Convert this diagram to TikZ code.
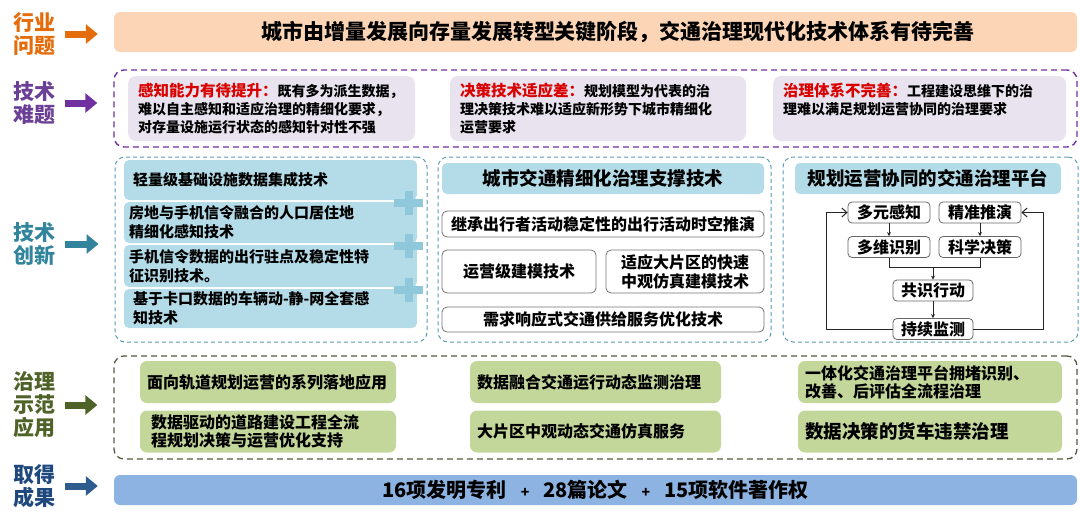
\documentclass[tikz,border=0pt]{standalone}
\usepackage{fontspec}
\setmainfont{Noto Sans CJK SC}
\usepackage{tikz}
\usetikzlibrary{arrows.meta}

\definecolor{hyorange}{HTML}{E46C0A}
\definecolor{barpeach}{HTML}{FBD5B5}
\definecolor{jsviolet}{HTML}{6A3F95}
\definecolor{jsarrow}{HTML}{7030A0}
\definecolor{nanfill}{HTML}{E8E3EE}
\definecolor{nanred}{HTML}{D90000}
\definecolor{cxteal}{HTML}{31849B}
\definecolor{cxdash}{HTML}{5B9BB5}
\definecolor{skyfill}{HTML}{B4DCE8}
\definecolor{plusblue}{HTML}{8FC8DA}
\definecolor{zlgreen}{HTML}{4F6228}
\definecolor{zldash}{HTML}{515A40}
\definecolor{appgreen}{HTML}{C4D79B}
\definecolor{cgnavy}{HTML}{1F497D}
\definecolor{cgarrow}{HTML}{2E5C8F}
\definecolor{cgbar}{HTML}{8DB3E2}

\newcommand{\hred}[1]{{\color{nanred}\fontsize{15.5}{18}\selectfont #1}}

\begin{document}
\begin{tikzpicture}[x=1pt, y=-1pt, font=\bfseries,
  lbl/.style={inner sep=0pt, align=center, font=\fontsize{21}{23}\selectfont\bfseries},
  bigarrow/.style={line width=7pt, -{Triangle[length=12pt,width=19pt]}, shorten <=10pt, shorten >=16pt},
  bar/.style={rounded corners=6pt, inner sep=0pt, minimum width=963pt},
  dashbox/.style={rounded corners=10pt, line width=1.4pt, dash pattern=on 6pt off 4pt, minimum width=963pt},
  nanbox/.style={fill=nanfill, rounded corners=8pt, inner xsep=10pt, inner ysep=4pt, text height=16pt, text depth=41pt, align=left, font=\fontsize{14}{18}\selectfont\bfseries},
  tealbox/.style={draw=cxdash, line width=1pt, dash pattern=on 4pt off 3pt, rounded corners=10pt, minimum height=185pt},
  chip/.style={fill=skyfill, rounded corners=5pt, text width=283pt, inner xsep=5pt, inner ysep=0pt, align=left, font=\fontsize{15}{19}\selectfont\bfseries},
  head/.style={fill=skyfill, rounded corners=5pt, minimum height=31pt, inner sep=0pt, font=\fontsize{18.5}{19}\selectfont\bfseries},
  whitebox/.style={draw=black!55, fill=white, rounded corners=5pt, line width=0.8pt, inner sep=0pt, align=center, font=\fontsize{16}{19}\selectfont\bfseries},
  flowbox/.style={draw=black!60, fill=white, rounded corners=4pt, line width=0.8pt, minimum width=82pt, minimum height=21pt, inner sep=0pt, font=\fontsize{16}{16}\selectfont\bfseries},
  thinline/.style={line width=0.8pt, draw=black!85},
  downarr/.style={thinline, -{Stealth[length=4pt,width=4pt]}},
  backarr/.style={line width=1pt, draw=black!85, -{Straight Barb[length=5pt,width=9pt]}},
  app/.style={fill=appgreen, rounded corners=7pt, inner xsep=7pt, minimum height=42pt, align=left, font=\fontsize{16}{18}\selectfont\bfseries}]

  \useasboundingbox (0,0) rectangle (1080,525);

  \node[lbl, text=hyorange] (l1) at (34,34) {行业\\问题};
  \node[lbl, text=jsviolet] (l2) at (34,103) {技术\\难题};
  \node[lbl, text=cxteal] (l3) at (34,244) {技术\\创新};
  \node[lbl, text=zlgreen] (l4) at (34,405) {治理\\示范\\应用};
  \node[lbl, text=cgnavy] (l5) at (34,486) {取得\\成果};

  \node[bar, fill=barpeach, minimum height=40pt] (b1) at (595.5,32) {};
  \node[font=\fontsize{21}{21}\selectfont\bfseries] (t1) at (618,32) {城市由增量发展向存量发展转型关键阶段，交通治理现代化技术体系有待完善};

  \node[dashbox, draw=jsarrow, minimum height=77pt] (b2) at (595.5,108.5) {};
  \node[nanbox, text width=267pt] (n1) at (271.5,108.5) {\hred{感知能力有待提升：}既有多为派生数据，\\难以自主感知和适应治理的精细化要求，\\对存量设施运行状态的感知针对性不强};
  \node[nanbox, text width=276pt] (n2) at (598,108.5) {\hred{决策技术适应差：}规划模型为代表的治\\理决策技术难以适应新形势下城市精细化\\运营要求};
  \node[nanbox, text width=273pt] (n3) at (919.5,108.5) {\hred{治理体系不完善：}工程建设思维下的治\\理难以满足规划运营协同的治理要求};

  \node[tealbox, minimum width=312pt] (b3) at (271,249.5) {};
  \node[tealbox, minimum width=333pt] (b4) at (604.5,249.5) {};
  \node[tealbox, minimum width=295pt] (b5) at (930.5,249.5) {};

  \node[chip, minimum height=40pt] (r1) at (270.5,180) {\hspace*{4pt}轻量级基础设施数据集成技术};
  \node[chip, minimum height=41pt] (r2) at (270.5,222.5) {房地与手机信令融合的人口居住地\\精细化感知技术};
  \node[chip, minimum height=42pt] (r3) at (270.5,266) {手机信令数据的出行驻点及稳定性特\\征识别技术。};
  \node[chip, minimum height=39pt] (r4) at (270.5,308.5) {\hspace*{4pt}基于卡口数据的车辆动-静-网全套感\\\hspace*{4pt}知技术};
  \foreach \y in {203,246,290} {
    \fill[plusblue] (394,\y-4) rectangle (423,\y+4);
    \fill[plusblue] (405,\y-12) rectangle (413,\y+12);
  }

  \node[head, minimum width=322pt] (h1) at (603,178.5) {城市交通精细化治理支撑技术};
  \node[whitebox, minimum width=322pt, minimum height=26pt] (w1) at (603,224) {继承出行者活动稳定性的出行活动时空推演};
  \node[whitebox, minimum width=154pt, minimum height=43pt] (w2) at (519,271.5) {运营级建模技术};
  \node[whitebox, minimum width=158pt, minimum height=43pt] (w3) at (685,271.5) {适应大片区的快速\\中观仿真建模技术};
  \node[whitebox, minimum width=322pt, minimum height=25pt] (w4) at (603,319.5) {需求响应式交通供给服务优化技术};

  \node[head, minimum width=266pt] (h2) at (928,178.5) {规划运营协同的交通治理平台};
  \node[flowbox] (dy) at (889,212.5) {多元感知};
  \node[flowbox] (jz) at (980,212.5) {精准推演};
  \node[flowbox] (dw) at (889,247) {多维识别};
  \node[flowbox] (kx) at (980,247) {科学决策};
  \node[flowbox, minimum width=80pt] (gs) at (933,290.5) {共识行动};
  \node[flowbox, minimum width=80pt] (jc) at (933,329) {持续监测};
  \draw[downarr] (dy.south) -- (dw.north);
  \draw[downarr] (jz.south) -- (kx.north);
  \draw[thinline] (dw.south) |- ([yshift=12pt]gs.north) -| (kx.south);
  \draw[downarr] ([yshift=12pt]gs.north) -- (gs.north);
  \draw[downarr] (gs.south) -- (jc.north);
  \draw[backarr] (jc.west) -| ([xshift=-21pt]dy.west) -- (dy.west);
  \draw[backarr] (jc.east) -| ([xshift=22pt]jz.east) -- (jz.east);

  \node[dashbox, draw=zldash, line width=1.3pt, minimum height=103pt] (b6) at (595.5,407.5) {};
  \node[app, text width=242pt] (a1) at (268,382) {面向轨道规划运营的系列落地应用};
  \node[app, text width=242pt] (a2) at (268,431.5) {\hspace*{4pt}数据驱动的道路建设工程全流\\\hspace*{4pt}程规划决策与运营优化支持};
  \node[app, text width=237pt] (a3) at (595.5,382) {数据融合交通运行动态监测治理};
  \node[app, text width=237pt] (a4) at (595.5,431.5) {大片区中观动态交通仿真服务};
  \node[app, text width=250pt] (a5) at (930,382) {一体化交通治理平台拥堵识别、\\改善、后评估全流程治理};
  \node[app, text width=250pt, font=\fontsize{18.5}{20}\selectfont\bfseries] (a6) at (930,431.5) {数据决策的货车违禁治理};

  \node[bar, fill=cgbar, minimum height=30pt, font=\fontsize{20}{20}\selectfont\bfseries] (b7) at (595.5,490) {16项发明专利\hspace{14pt}{\fontsize{14}{14}\selectfont +}\hspace{14pt}28篇论文\hspace{14pt}{\fontsize{14}{14}\selectfont +}\hspace{14pt}15项软件著作权};

  \draw[bigarrow, hyorange] (l1.east) -- (l1.east -| b1.west);
  \draw[bigarrow, jsarrow] (l2.east) -- (l2.east -| b2.west);
  \draw[bigarrow, cxteal] (l3.east) -- (l3.east -| b3.west);
  \draw[bigarrow, zlgreen] (l4.east) -- (l4.east -| b6.west);
  \draw[bigarrow, cgarrow] (l5.east) -- (l5.east -| b7.west);
\end{tikzpicture}
\end{document}
